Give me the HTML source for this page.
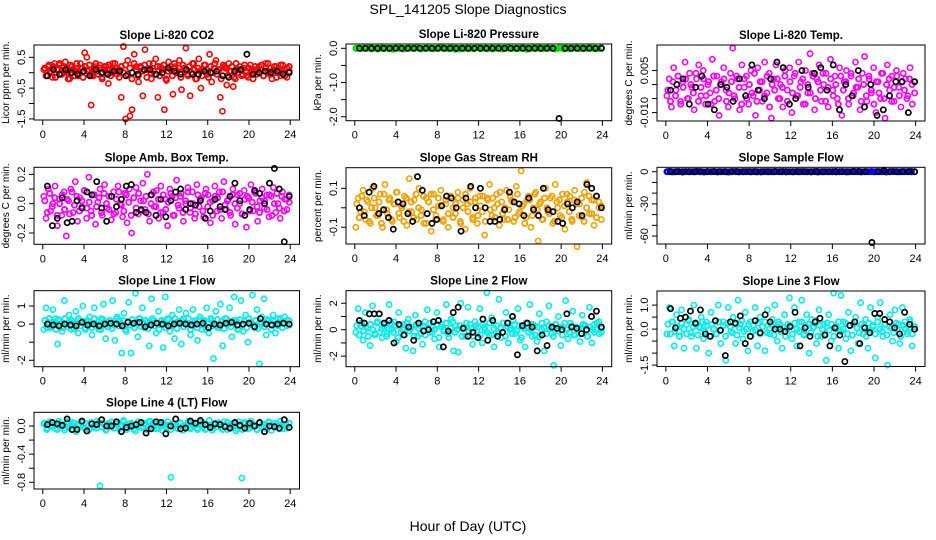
<!DOCTYPE html>
<html><head><meta charset="utf-8"><style>
html,body{margin:0;padding:0;background:#fff;}
svg{display:block;font-family:"Liberation Sans",sans-serif;}
</style></head><body>
<svg id="chart" width="936" height="540" viewBox="0 0 936 540" xmlns="http://www.w3.org/2000/svg">
<text x="468" y="14" text-anchor="middle" font-size="14">SPL_141205  Slope Diagnostics</text>
<text x="468" y="531" text-anchor="middle" font-size="14">Hour of Day (UTC)</text>
</svg>
<script>
const xTicks = [0,4,8,12,16,20,24];

const co2Color = [0.1,-0.1,0.2,0.05,-0.15,0.3,0.1,0.25,-0.05,0.15,0.35,0,-0.2,0.2,0.1,0.05,-0.1,0.3,0.15,0.65,0.5,0.1,-1.05,-0.1,0.2,0.05,0.25,-0.15,0.1,0.2,-0.35,0,0.3,0.15,-0.05,0.1,-0.8,0.85,-1.5,0.4,-1.4,-1.2,0.6,0.2,-0.3,0.15,-0.75,0.75,0.1,0.3,-0.2,0.05,0.45,-0.8,0.2,0.1,-1.2,-0.25,0.35,0.1,-0.7,0.2,0.05,0.4,-0.55,0.15,0.8,-0.1,-0.75,0.3,0.1,-0.2,0.45,-0.5,0.1,0.25,-0.05,0.6,-0.3,0.15,0.4,0.1,-0.8,-1.25,0.2,-0.4,0.3,0.05,-0.45,-0.2,0.1,0.2,-0.1,0.15,0.05,-0.15,0.25,0,0.1,-0.05,0.2,0.1,-0.1,0.3,0.05,0.15,-0.2,0.1,0.2,0,-0.1,0.25,0.1,-0.15,0.05];
const co2Band = [0.15,-0.1,0.25,0.0,0.2,-0.15,0.1,0.3,-0.05,0.2,0.05,-0.2,0.25,0.1,-0.1,0.3,0.0,0.15,-0.15,0.2,0.05,0.25,-0.1,0.1,0.3,-0.05,0.15,-0.2,0.2,0.0,0.25,-0.1,0.1,0.3,0.05,-0.15,0.2,0.0,0.25,-0.05,0.15,-0.2,0.3,0.1,-0.1,0.2,0.05,0.25,-0.15,0.1,0.0,0.3,-0.05,0.2,-0.1,0.15,0.25,-0.2,0.05,0.2,-0.1,0.3,0.0,0.15,-0.15,0.25,0.1,-0.05,0.2,0.0,0.3,-0.2,0.15,0.05,-0.1,0.25,0.1,-0.15,0.2,0.0,0.3,-0.05,0.1,-0.2,0.25,0.15,-0.1,0.05,0.2,-0.15,0.3,0.0,0.1,-0.05,0.25,-0.1,0.15,0.05,-0.2,0.2,0.1,0.0,0.25,-0.1,0.15,0.3,-0.05,0.05,0.2,-0.15,0.1,0.25,0.0,-0.1,0.15,0.2];
const co2Black = [-0.1,0.1,-0.05,0.1,0,-0.05,0.05,-0.1,0.1,0,-0.05,0.05,0.05,-0.1,0,-0.05,0.1,0.1,-0.05,0,0.15,0.05,-0.05,0.1,-0.05,-0.05,0.05,0,0.05,-0.1,-0.15,0.05,0.1,0.6,-0.05,0,0.05,0,0.05,-0.05,0];

const presColor = [0,0.01,-0.01,0,0.02,-0.02,0,0.01,0,-0.01,0.01,0,-0.03,0,0.02,0,-0.01,0.01,0,0,0.01,-0.02,0,0.01,0,-0.01,0,0.02,0,-0.01,0.01,0,-0.03,0,0.01,0,-0.01,0.01,0,0.02,-0.01,0,0.01,0,-0.02,0,0.01,0,-0.01,0.02,0,0,-0.01,0.01,0,-0.03,0,0.01,0,0.02,-0.01,0,0.01,0,-0.01,0,0.01,-0.02,0,0.01,0,0,-0.01,0.01,0,0.02,0,-0.01,0,0.01];
const presBand = [0,-0.01,0.01,0,0.02,0,-0.02,0.01,0,-0.01,0,0.01,0,-0.02,0,0.01,0,0.02,-0.01,0,0.01,0,-0.01,0,0.02,0,-0.01,0.01,0,-0.02,0,0.01,0,-0.01,0.02,0,0,-0.01,0.01,0,0.01,-0.02,0,0.01,0,-0.01,0,0.02,0,-0.01,0.01,0,-0.01,0,0.01,0,-0.02,0.01,0,0.01,-0.01,0,0.02,0,-0.01,0,0.01,0,-0.01,0.01];
const presBlack = [0,0,0,0,0,0,0,0,0,0,0,0,0,0,0,0,0,0,0,0,0,0,0,0,0,0,0,0,0,0,0,0,0,-2.05,0,0,0,0,0,0,0];

const tempColor = [-0.004,0.002,-0.008,0.006,-0.002,0.003,-0.006,0.001,0.008,-0.005,0.004,-0.001,-0.009,0.002,0.007,-0.004,0.005,-0.007,0.000,-0.003,0.009,-0.006,0.003,-0.011,0.001,0.006,-0.002,-0.008,0.004,0.013,-0.005,0.002,-0.009,0.007,-0.001,0.003,-0.007,0.005,-0.004,-0.011,0.006,0.001,-0.006,0.008,-0.003,0.004,-0.012,0.002,0.007,-0.005,0.000,-0.008,0.005,-0.002,0.006,-0.010,0.003,-0.004,0.008,0.001,-0.007,0.005,-0.003,0.011,0.004,-0.009,0.002,0.007,-0.006,0.000,0.004,-0.008,0.009,-0.002,0.003,-0.005,0.006,-0.011,0.001,0.005,-0.007,0.003,-0.004,0.008,-0.001,-0.009,0.004,0.010,-0.006,0.002,-0.003,0.006,-0.010,0.001,-0.005,0.004,-0.012,0.007,-0.002,0.003,-0.006,0.005,-0.001,-0.008,0.004,0.002,-0.004,0.006,-0.007,0.001];
const tempBand = [-0.002,-0.006,0.001,-0.004,0.003,-0.007,-0.001,0.002,-0.005,0.000,-0.003,0.004,-0.006,-0.001,0.002,-0.004,0.001,-0.007,0.003,-0.002,-0.005,0.000,0.002,-0.006,-0.003,0.001,-0.004,0.003,-0.001,-0.007,0.002,-0.005,0.000,-0.003,0.004,-0.006,-0.002,0.001,-0.004,0.003,-0.008,0.000,-0.002,0.002,-0.005,-0.001,0.003,-0.006,0.001,-0.003,0.004,-0.004,-0.001,0.002,-0.007,0.000,-0.003,0.003,-0.005,0.001,-0.002,0.004,-0.006,-0.001,0.002,-0.004,0.000,-0.007,0.003,-0.002,0.001,-0.005,0.004,-0.003,-0.001,0.002,-0.006,0.000,-0.004,0.003,-0.002,-0.007,0.001,-0.003,0.004,-0.005,0.000,0.002,-0.006,-0.001,0.003,-0.004,0.001,-0.002,-0.005,0.002,0.000,-0.003];
const tempBlack = [-0.002,0.000,0.002,-0.007,-0.001,0.003,-0.007,-0.009,0.000,-0.001,-0.006,0.002,-0.004,0.007,-0.002,-0.005,0.002,0.008,0.006,-0.007,-0.005,0.005,-0.001,0.004,0.006,-0.002,0.007,-0.009,0.000,-0.004,0.005,-0.008,0.000,-0.011,-0.009,-0.004,0.001,0.001,-0.010,0.001];

const ambColor = [0.05,-0.1,0.1,-0.05,0.0,0.12,-0.15,0.03,-0.08,0.08,-0.22,0.02,0.1,-0.06,0.15,-0.12,0.04,-0.02,0.09,-0.1,0.18,-0.05,0.06,-0.14,0.01,0.1,-0.08,0.13,-0.03,0.05,-0.11,0.08,-0.06,0.12,0.0,-0.09,0.07,-0.13,0.1,-0.2,0.04,0.11,-0.07,0.02,0.14,-0.04,0.2,-0.12,0.06,-0.02,0.09,-0.1,0.12,-0.06,0.03,-0.15,0.1,0.05,-0.08,0.16,-0.03,0.07,-0.12,0.0,0.11,-0.06,0.08,-0.1,0.13,-0.02,0.04,-0.09,0.1,0.06,-0.13,0.02,0.12,-0.05,0.08,-0.1,0.15,-0.04,0.03,-0.08,0.1,-0.14,0.06,0.0,-0.07,0.09,-0.16,0.04,0.13,-0.05,0.07,-0.12,0.02,0.1,-0.03,0.06,-0.09,0.05,0.11,-0.06,0.0,-0.1,0.08,0.03,-0.04,0.06];
const ambBand = [0.02,-0.06,0.07,-0.02,0.04,-0.08,0.0,0.06,-0.04,0.03,-0.07,0.08,-0.01,0.05,-0.05,0.02,0.09,-0.03,0.01,-0.08,0.06,-0.02,0.04,-0.06,0.07,0.0,-0.04,0.05,-0.07,0.03,0.08,-0.01,-0.05,0.06,0.01,-0.08,0.04,-0.03,0.07,-0.05,0.02,0.05,-0.07,0.0,0.08,-0.02,0.03,-0.06,0.06,-0.04,0.01,0.07,-0.08,0.04,-0.01,0.05,-0.06,0.02,0.08,-0.03,0.0,-0.07,0.06,0.03,-0.05,0.07,-0.02,0.01,-0.08,0.05,0.04,-0.04,0.08,-0.01,0.02,-0.06,0.06,0.0,-0.03,0.07,-0.07,0.03,0.05,-0.05,0.01,0.08,-0.02,-0.06,0.04,0.02,-0.04,0.06,-0.08,0.0,0.07,-0.03,0.05,-0.05,0.03,0.01];
const ambBlack = [0.12,-0.15,-0.1,0.04,-0.13,-0.12,0.02,-0.03,0.08,0.06,0.15,-0.03,-0.12,0.05,-0.02,0.03,0.12,0.13,-0.06,-0.04,-0.06,0.06,-0.08,0.03,-0.09,0.02,0.08,0.1,-0.04,0.0,-0.01,0.02,-0.1,-0.05,0.03,-0.02,-0.04,0.05,0.14,0.02,-0.08,-0.04,0.09,0.07,0.0,0.14,0.24,0.1,-0.26,0.05];

const rhColor = [-0.1,0.05,-0.02,0.09,-0.06,0.03,-0.08,0.1,0.0,-0.04,0.07,-0.1,0.12,-0.03,0.05,-0.07,0.02,0.08,-0.05,0.0,0.06,-0.09,0.15,-0.02,0.04,-0.06,0.1,-0.01,-0.08,0.05,0.03,-0.12,0.07,-0.04,0.01,0.09,-0.06,0.02,-0.1,0.06,0.0,-0.03,0.08,-0.07,0.04,-0.11,0.02,0.1,-0.05,0.03,-0.08,0.06,-0.02,-0.14,0.05,0.12,-0.04,0.0,0.07,-0.09,0.03,-0.06,0.09,-0.01,0.04,-0.07,0.11,-0.03,0.19,0.02,-0.05,0.06,-0.1,0.0,0.08,-0.17,0.03,-0.06,0.1,-0.02,0.05,-0.08,0.12,0.0,-0.04,0.07,-0.11,0.03,0.06,-0.07,0.09,-0.2,0.02,-0.05,0.08,0.13,-0.03,0.04,-0.09,0.06,0.0,-0.06];
const rhBand = [0.02,-0.05,0.06,-0.02,0.04,-0.07,0.0,0.05,-0.04,0.03,-0.08,0.07,-0.01,0.04,-0.06,0.02,0.08,-0.03,0.01,-0.07,0.05,-0.02,0.03,-0.05,0.07,0.0,-0.04,0.06,-0.08,0.03,0.07,-0.01,-0.06,0.05,0.01,-0.07,0.04,-0.03,0.06,-0.05,0.02,0.05,-0.08,0.0,0.07,-0.02,0.03,-0.06,0.05,-0.04,0.01,0.06,-0.07,0.04,-0.01,0.05,-0.05,0.02,0.08,-0.03,0.0,-0.06,0.06,0.03,-0.05,0.07,-0.02,0.01,-0.08,0.04,0.04,-0.04,0.07,-0.01,0.02,-0.06,0.05,0.0,-0.03,0.06,-0.07,0.03,0.04,-0.05,0.01,0.07,-0.02,-0.06,0.04,0.02,-0.04,0.05,-0.07,0.0,0.06,-0.03,0.04,-0.05,0.03,0.01];
const rhBlack = [0.0,-0.04,0.08,0.11,-0.03,-0.01,-0.05,-0.11,0.03,0.02,-0.03,-0.07,0.16,0.09,-0.03,-0.08,-0.06,0.01,0.06,0.05,0.0,-0.12,0.05,0.11,0.0,0.1,0.0,-0.07,-0.07,-0.06,-0.01,0.08,0.03,0.02,-0.04,0.05,-0.01,-0.04,0.1,-0.01,-0.02,-0.07,-0.08,0.02,0.0,0.03,-0.04,0.12,0.1,0.06,0.0];

const sampColor = [0,0.3,-0.2,0.1,0,-0.4,0.2,0,0.1,-0.1,0.3,0,-0.2,0.1,0,0.2,-0.3,0,0.1,-0.1,0,0.3,0,-0.2,0.1,0,0.2,-0.1,0,0.1,-0.3,0,0.2,0,-0.1,0.1,0,0.3,-0.2,0,0.1,0,-0.1,0.2,0,0.1,-0.2,0,0.3,0,-0.1,0.1,0,0.2,-0.3,0,0.1,0,-0.1,0.2,0,0.4,-0.2,0,0.1,0,-0.1,0.2,0,0.1,-0.2,0,0.3,0,-0.1,0.1,0,0.2,-0.1,0];
const sampBand = [0.1,-0.1,0,0.2,-0.2,0.1,0,-0.1,0.3,0,-0.2,0.1,0,0.2,-0.1,0,0.1,-0.3,0,0.2,0,-0.1,0.1,0,0.2,-0.2,0,0.1,-0.1,0,0.3,0,-0.1,0.1,0,-0.2,0.2,0,0.1,-0.1,0,0.2,-0.3,0,0.1,0,-0.1,0.2,0,0.1,-0.2,0,0.3,0,-0.1,0.1,0,0.2,-0.1,0,0.1,-0.2,0,0.2,0,-0.1,0.1,0,0.3,-0.1];
const sampBlack = [0,0,0,0,0,0,0,0,0,0,0,0,0,0,0,0,0,0,0,0,0,0,0,0,0,0,0,0,0,0,0,0,0,-66,0,1,0,0,0,0,0];

const l1Color = [-0.3,0.9,0.1,-0.2,0.8,0.3,-1.1,0.2,-0.4,1.3,0.0,0.5,-0.3,0.1,0.7,-0.5,0.2,1.0,-0.2,0.1,0.4,-0.6,0.9,0.0,-0.3,0.3,1.1,-0.8,0.1,-0.1,1.3,-0.9,0.4,0.2,-1.6,0.6,-0.4,1.2,-1.6,0.0,1.7,-0.7,0.3,0.9,-0.2,0.1,-1.2,1.4,0.2,-0.5,0.7,0.0,-1.3,1.5,0.3,-0.4,0.5,-0.8,0.1,0.8,-1.1,0.3,0.6,0.0,-0.6,0.8,0.2,-0.9,0.4,-0.3,0.1,0.9,-0.5,0.2,-1.9,0.7,-0.2,1.1,-1.2,0.3,0.0,0.9,-0.7,1.5,0.2,-0.3,1.3,-0.4,0.5,-1.0,0.1,1.6,-0.2,0.8,-2.2,0.4,1.4,-0.6,0.2,0.0,0.5,-0.5,0.3,0.1,-0.2,0.4,-0.1,0.2];
const l1Band = [0.2,-0.2,0.3,-0.1,0.1,-0.3,0.25,0.0,-0.2,0.3,-0.15,0.1,0.2,-0.25,0.05,0.3,-0.1,0.15,-0.3,0.2,0.0,-0.2,0.3,-0.05,0.15,-0.3,0.25,0.1,-0.15,0.2,-0.25,0.05,0.3,-0.1,0.0,0.2,-0.3,0.15,-0.05,0.25,-0.2,0.1,0.3,-0.15,0.0,0.2,-0.25,0.1,0.3,-0.1,0.05,-0.3,0.2,0.15,-0.2,0.25,0.0,-0.1,0.3,-0.25,0.1,0.2,-0.15,0.05,0.3,-0.3,0.15,0.0,-0.2,0.25,-0.05,0.2,-0.3,0.1,0.3,-0.1,0.0,0.25,-0.2,0.15,-0.25,0.3,0.05,-0.15,0.2,0.1,-0.3,0.25,-0.05,0.15,-0.2,0.3,0.0,-0.1,0.2,-0.25,0.1,0.05,-0.15,0.25,0.2,-0.3,0.15,0.0,-0.1,0.3,-0.2,0.1,0.2,-0.05];
const l1Black = [0.0,-0.05,-0.1,0.0,-0.05,-0.1,0.1,-0.05,0.0,-0.1,0.0,0.05,0.0,-0.1,0.1,0.05,0.1,-0.15,-0.05,0.05,0.0,-0.1,0.0,0.05,0.0,-0.05,0.0,0.05,-0.2,0.0,-0.05,0.05,0.1,-0.05,0.0,0.05,-0.15,0.3,0.0,-0.05,0.0,0.05,0.0];

const l2Color = [-0.2,1.6,0.3,-0.8,1.3,0.1,-1.2,1.8,-0.4,0.5,1.2,-0.6,0.2,-0.3,1.9,0.0,0.6,-0.9,1.3,-0.2,0.4,-1.4,0.8,0.1,-1.6,1.1,-0.5,0.3,-1.1,0.6,1.5,-0.2,0.2,-0.7,1.3,-1.3,0.4,0.0,1.9,-0.6,0.8,-1.6,0.3,-1.7,2.0,0.1,-0.5,1.7,0.4,-1.1,0.6,-0.2,1.6,-1.0,0.2,2.8,-0.4,0.9,-1.3,0.3,2.3,-0.6,0.5,1.3,-1.0,0.1,0.7,-0.3,1.6,-0.8,0.2,-1.3,0.5,1.9,-0.5,0.3,-0.9,1.2,0.0,-1.6,0.6,1.8,-0.3,-2.7,0.4,1.0,-1.2,0.2,2.2,-0.7,0.5,1.4,-0.4,0.1,-0.9,1.1,0.3,-0.5,1.7,-1.0,0.4,0.0,0.6,-0.2];
const l2Band = [0.3,-0.4,0.5,-0.1,0.2,-0.5,0.4,0.0,-0.3,0.6,-0.2,0.1,0.4,-0.5,0.1,0.5,-0.2,0.3,-0.6,0.3,0.0,-0.4,0.5,-0.1,0.2,-0.5,0.4,0.1,-0.3,0.3,-0.4,0.1,0.5,-0.2,0.0,0.4,-0.6,0.2,-0.1,0.5,-0.3,0.1,0.6,-0.2,0.0,0.3,-0.5,0.2,0.5,-0.1,0.1,-0.5,0.3,0.2,-0.4,0.4,0.0,-0.2,0.5,-0.4,0.1,0.3,-0.3,0.1,0.5,-0.5,0.2,0.0,-0.3,0.4,-0.1,0.3,-0.6,0.1,0.5,-0.2,0.0,0.4,-0.4,0.2,-0.5,0.5,0.1,-0.3,0.3,0.1,-0.5,0.4,-0.1,0.2,-0.4,0.5,0.0,-0.2,0.3,-0.4,0.2,0.1,-0.3,0.4,0.3,-0.5,0.2,0.0,-0.2,0.5,-0.3,0.1];
const l2Black = [0.7,0.5,1.2,1.2,1.2,0.5,0.7,-1.0,0.4,-0.4,0.2,-0.8,0.5,-0.1,0.0,0.6,0.7,-1.3,-0.1,1.3,1.7,0.1,-0.5,-0.2,-0.6,0.8,-0.8,0.7,-0.5,-0.2,0.5,1.0,-1.9,0.3,0.5,0.2,-1.6,-0.4,-1.2,0.2,0.1,0.0,1.2,0.2,0.1,-0.3,0.0,1.0,1.4,0.2];

const l3Color = [-0.2,0.9,0.3,-0.7,0.6,-0.1,0.8,-0.8,0.2,0.4,-0.3,1.0,-0.8,0.1,0.5,-0.4,0.3,-1.0,0.7,0.0,-0.2,1.0,-0.6,0.3,-1.3,0.9,-0.1,0.5,-0.6,1.2,0.2,-0.4,0.7,-0.9,0.3,-0.1,0.9,-0.7,0.5,0.1,-0.9,0.8,-0.2,0.4,1.0,-0.5,0.2,-0.8,0.6,0.0,1.3,-0.4,0.9,-0.7,0.3,1.2,-0.2,0.6,-1.0,0.4,0.1,-0.6,0.8,-0.3,0.2,-1.3,0.6,-0.5,1.5,0.0,-0.8,1.4,0.3,-0.4,0.7,-0.9,0.2,0.5,-0.6,1.1,-0.2,0.4,-0.8,0.9,0.1,-1.2,0.5,1.1,-0.3,0.2,-1.5,0.6,-0.5,0.8,0.0,-0.6,0.9,0.3,-0.2,0.4,-0.7,0.1];
const l3Band = [0.2,-0.2,0.3,-0.1,0.1,-0.3,0.25,0.0,-0.2,0.35,-0.15,0.1,0.2,-0.25,0.05,0.3,-0.1,0.15,-0.3,0.2,0.0,-0.2,0.3,-0.05,0.15,-0.3,0.25,0.1,-0.15,0.2,-0.25,0.05,0.35,-0.1,0.0,0.2,-0.3,0.15,-0.05,0.25,-0.2,0.1,0.3,-0.15,0.0,0.2,-0.25,0.1,0.3,-0.1,0.05,-0.3,0.2,0.15,-0.2,0.25,0.0,-0.1,0.3,-0.25,0.1,0.2,-0.15,0.05,0.35,-0.3,0.15,0.0,-0.2,0.25,-0.05,0.2,-0.3,0.1,0.3,-0.1,0.0,0.25,-0.2,0.15,-0.25,0.3,0.05,-0.15,0.2,0.1,-0.3,0.25,-0.05,0.15,-0.2,0.3,0.0,-0.1,0.2,-0.25,0.1,0.05,-0.15,0.25,0.2,-0.3,0.15,0.0,-0.1,0.3,-0.2,0.1];
const l3Black = [0.85,0.05,0.45,0.5,0.75,0.25,0.8,-0.2,-0.3,0.35,-0.05,-1.1,0.3,0.25,0.55,-0.6,-0.3,0.35,-0.15,0.6,0.3,0.0,0.0,-0.1,0.1,0.7,-0.7,0.05,-0.3,0.3,0.45,-0.25,-0.7,0.05,-0.25,-1.35,0.15,0.3,-0.6,0.05,-0.15,0.65,0.65,0.4,0.3,0.05,-0.2,0.7,0.2,0.0];

const l4Color = [0.03,-0.05,0.06,0.0,-0.03,0.07,0.02,-0.06,0.04,-0.01,0.05,-0.08,0.03,0.06,-0.04,0.0,0.05,-0.02,0.07,-0.85,0.04,-0.06,0.02,0.06,-0.03,0.05,-0.01,0.08,-0.05,0.03,0.0,-0.07,0.06,-0.02,0.04,-0.05,0.07,0.01,-0.04,0.05,-0.06,0.02,0.06,-0.73,0.03,-0.03,0.05,-0.06,0.01,0.07,-0.02,0.04,-0.05,0.06,0.0,-0.04,0.08,-0.06,0.03,0.05,-0.02,0.06,-0.05,0.01,0.04,-0.07,0.06,-0.74,0.03,-0.04,0.07,0.0,-0.05,0.05,0.02,-0.03,0.06,-0.06,0.04,0.0,0.07,-0.04,0.02,-0.02];
const l4Band = [0.04,-0.03,0.05,-0.01,0.02,-0.05,0.04,0.0,-0.03,0.06,-0.02,0.01,0.04,-0.04,0.01,0.05,-0.02,0.03,-0.05,0.04,0.0,-0.03,0.05,-0.01,0.02,-0.05,0.04,0.01,-0.03,0.03,-0.04,0.01,0.06,-0.02,0.0,0.04,-0.05,0.02,-0.01,0.05,-0.03,0.01,0.06,-0.02,0.0,0.03,-0.04,0.02,0.05,-0.01,0.01,-0.05,0.03,0.02,-0.04,0.04,0.0,-0.02,0.05,-0.04,0.01,0.03,-0.03,0.01,0.05,-0.05,0.02,0.0,-0.03,0.04,-0.01,0.03,-0.05,0.01,0.05,-0.02,0.0,0.04,-0.04,0.02,-0.05,0.05,0.01,-0.03,0.03,0.01,-0.05,0.04,-0.01,0.02,-0.04,0.05,0.0,-0.02,0.03,-0.04,0.02,0.01,-0.03,0.04];
const l4Black = [0.02,0.05,0.03,0.01,0.1,-0.05,-0.05,0.07,-0.07,0.03,0.02,0.09,0.0,0.0,0.06,-0.08,-0.02,0.0,0.02,0.05,-0.1,-0.04,0.06,0.05,-0.11,0.0,0.1,-0.04,-0.03,0.07,0.04,0.08,0.02,-0.02,0.03,0.02,-0.01,-0.03,0.05,0.01,-0.03,0.04,0.0,0.05,-0.08,0.0,-0.01,-0.03,0.09,-0.02];

const panels = [
 {name:"co2",title:"Slope Li-820 CO2",ylab:"Licor ppm per min.",box:[34,45,299.5,120],ymin:-1.535,ymax:0.90,ticks:[-1.5,-1,-0.5,0,0.5],labels:["-1.5","","-0.5","","0.5"],col:"#ff0000",color:co2Color,band:co2Band,black:co2Black},
 {name:"pressure",title:"Slope Li-820 Pressure",ylab:"kPa per min.",box:[346,44,611.7,120.7],ymin:-2.116,ymax:0.126,ticks:[-2,-1.5,-1,-0.5,0],labels:["-2.0","","-1.0","","0.0"],col:"#00dd00",color:presColor,band:presBand,black:presBlack},
 {name:"temp",title:"Slope Li-820 Temp.",ylab:"degrees C per min.",box:[657,45,925,121],ymin:-0.0130,ymax:0.0141,ticks:[-0.01,-0.005,0,0.005],labels:["-0.010","","","0.005"],col:"#ff00ff",color:tempColor,band:tempBand,black:tempBlack},
 {name:"amb-box-temp",title:"Slope Amb. Box Temp.",ylab:"degrees C per min.",box:[34,167.3,299.5,244.3],ymin:-0.277,ymax:0.248,ticks:[-0.2,-0.1,0,0.1,0.2],labels:["-0.2","","0.0","","0.2"],col:"#ff00ff",color:ambColor,band:ambBand,black:ambBlack},
 {name:"gas-rh",title:"Slope Gas Stream RH",ylab:"percent per min.",box:[346,167.7,611.7,244],ymin:-0.186,ymax:0.206,ticks:[-0.1,0,0.1],labels:["-0.1","","0.1"],col:"#f5a000",color:rhColor,band:rhBand,black:rhBlack},
 {name:"sample-flow",title:"Slope Sample Flow",ylab:"ml/min per min.",box:[657,167.3,925,244],ymin:-67.4,ymax:4.1,ticks:[-60,-50,-40,-30,-20,-10,0],labels:["-60","","","-30","","","0"],col:"#0000ff",color:sampColor,band:sampBand,black:sampBlack},
 {name:"line1-flow",title:"Slope Line 1 Flow",ylab:"ml/min per min.",box:[34,290.7,299.5,366.7],ymin:-2.354,ymax:1.845,ticks:[-2,-1,0,1],labels:["-2","","0","1"],col:"#00eeee",color:l1Color,band:l1Band,black:l1Black},
 {name:"line2-flow",title:"Slope Line 2 Flow",ylab:"ml/min per min.",box:[346,290.7,611.7,366.7],ymin:-2.80,ymax:2.95,ticks:[-2,-1,0,1,2],labels:["-2","","0","","2"],col:"#00eeee",color:l2Color,band:l2Band,black:l2Black},
 {name:"line3-flow",title:"Slope Line 3 Flow",ylab:"ml/min per min.",box:[657,291,925,366.5],ymin:-1.557,ymax:1.587,ticks:[-1.5,-1,-0.5,0,0.5,1],labels:["-1.5","","","0.0","","1.0"],col:"#00eeee",color:l3Color,band:l3Band,black:l3Black},
 {name:"line4-flow",title:"Slope Line 4 (LT) Flow",ylab:"ml/min per min.",box:[34,412.3,299.5,489],ymin:-0.895,ymax:0.195,ticks:[-0.8,-0.6,-0.4,-0.2,0],labels:["-0.8","","-0.4","","0.0"],col:"#00eeee",color:l4Color,band:l4Band,black:l4Black}
];

const NS="http://www.w3.org/2000/svg";
const svg=document.getElementById('chart');
function mk(tag,attrs,parent){const e=document.createElementNS(NS,tag);for(const k in attrs)e.setAttribute(k,attrs[k]);(parent||svg).appendChild(e);return e;}

panels.forEach(p=>{
  const [L,T,R,B]=p.box;
  const xmin=-0.85,xmax=24.9;
  const xs=v=>L+(v-xmin)/(xmax-xmin)*(R-L);
  const ys=v=>B-(v-p.ymin)/(p.ymax-p.ymin)*(B-T);
  const g=mk('g',{});
  
  
  const t=mk('text',{x:(L+R)/2,y:T-6,'text-anchor':'middle','font-size':'11.5','font-weight':'bold'},g);
  t.textContent=p.title;
  
  
  const yl=mk('text',{x:0,y:0,'text-anchor':'middle','font-size':'10',transform:`translate(${L-25},${(T+B)/2}) rotate(-90)`},g);
  yl.textContent=p.ylab;
  
  
  const pts=mk('g',{},g);
  const drawSeries=(arr,col,w,nm,off)=>{
    const n=arr.length;
    arr.forEach((v,i)=>{
      const h=0.1+off+i*(23.8-off)/(n-1);
      const c=mk('circle',{cx:xs(h),cy:ys(v),r:2.6,fill:'none',stroke:col,'stroke-width':w},pts);
      
      
    });
  };
  drawSeries(p.band,p.col,1.8,p.name+'-band-point',0.1);
  drawSeries(p.color,p.col,1.6,p.name+'-point',0);
  drawSeries(p.black,'#000',1.7,p.name+'-ref-point',0.35);
  const bx=mk('rect',{x:L,y:T,width:R-L,height:B-T,fill:'none',stroke:'#000','stroke-width':1},g);
  
  
  xTicks.forEach(v=>{
    mk('line',{x1:xs(v),x2:xs(v),y1:B,y2:B+5,stroke:'#000'},g);
    const tl=mk('text',{x:xs(v),y:B+18,'text-anchor':'middle','font-size':'11'},g);
    tl.textContent=v;
    
    
  });
  p.ticks.forEach((v,i)=>{
    mk('line',{x1:L-5,x2:L,y1:ys(v),y2:ys(v),stroke:'#000'},g);
    if(p.labels[i]){
      const tl=mk('text',{x:0,y:0,'text-anchor':'middle','font-size':'11',transform:`translate(${L-9},${ys(v)}) rotate(-90)`},g);
      tl.textContent=p.labels[i];
      
      
    }
  });
});
</script>
</body></html>
